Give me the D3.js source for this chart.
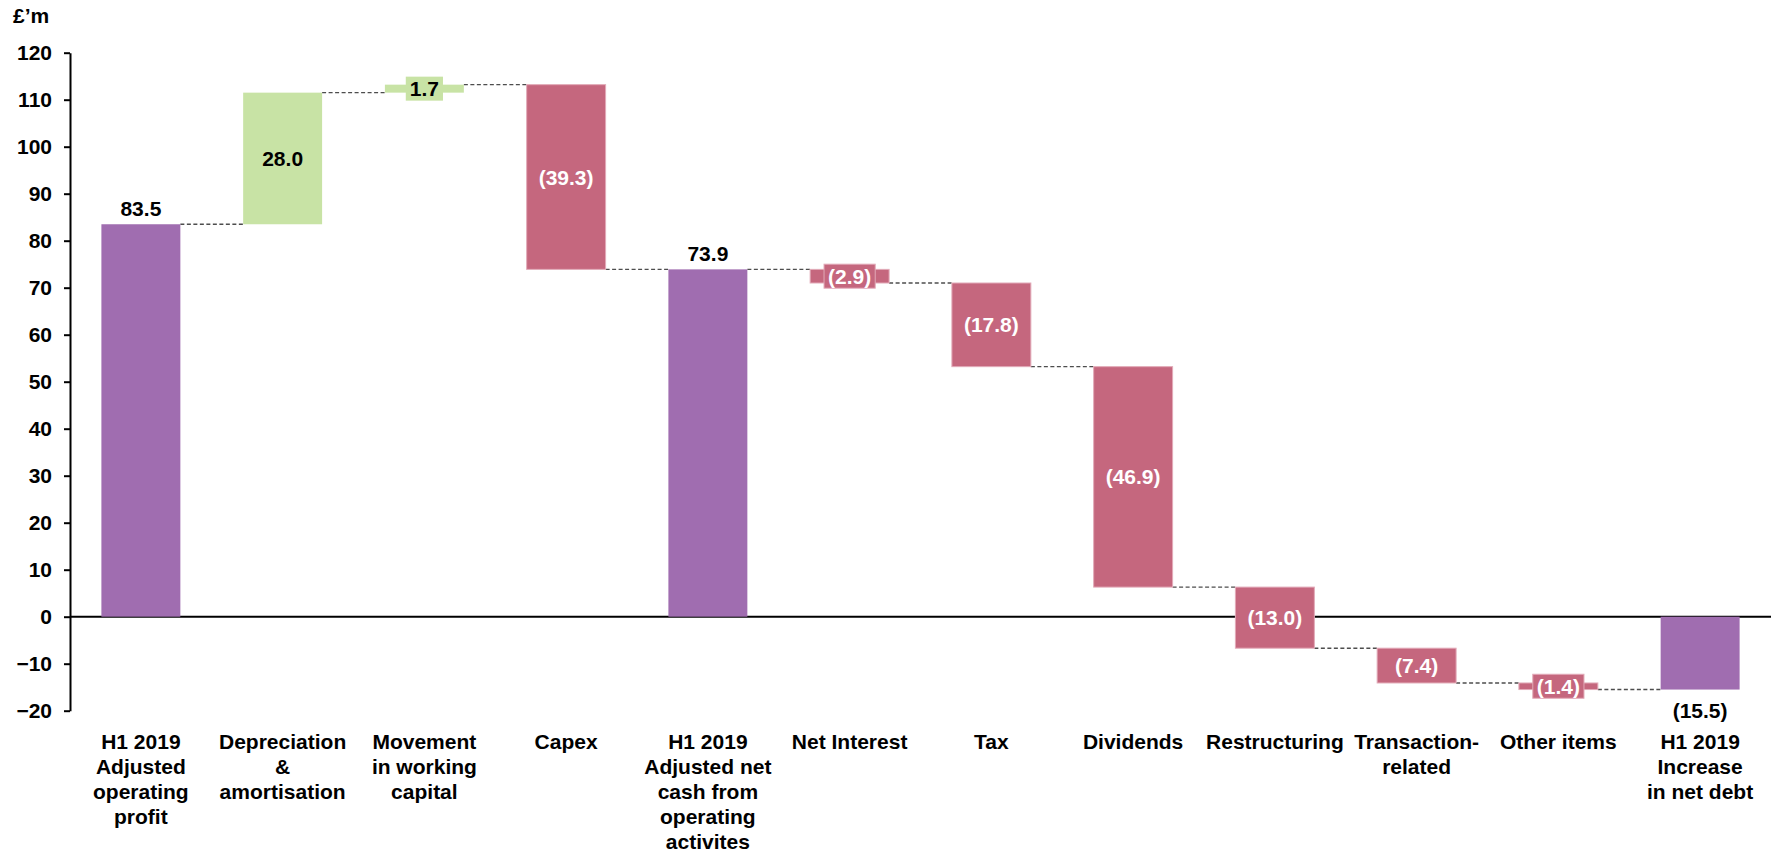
<!DOCTYPE html>
<html>
<head>
<meta charset="utf-8">
<script src="https://cdn.jsdelivr.net/npm/d3@7"></script>
<style>
  html, body { margin: 0; padding: 0; background: #fff; }
  svg { display: block; }
  text { font-family: "Liberation Sans", Arial, sans-serif; font-weight: bold; }
</style>
</head>
<body>
<svg id="chart" width="1777" height="855"></svg>
<script>
// ---- Data ----
const categories = [
  "H1 2019\nAdjusted\noperating\nprofit",
  "Depreciation\n&\namortisation",
  "Movement\nin working\ncapital",
  "Capex",
  "H1 2019\nAdjusted net\ncash from\noperating\nactivites",
  "Net Interest",
  "Tax",
  "Dividends",
  "Restructuring",
  "Transaction-\nrelated",
  "Other items",
  "H1 2019\nIncrease\nin net debt"
];
const values = [83.5, 28.0, 1.7, -39.3, 73.9, -2.9, -17.8, -46.9, -13.0, -7.4, -1.4, -15.5];
const barTypes = ["total", "delta", "delta", "delta", "total", "delta", "delta", "delta", "delta", "delta", "delta", "total"];
const valueLabels = ["83.5", "28.0", "1.7", "(39.3)", "73.9", "(2.9)", "(17.8)", "(46.9)", "(13.0)", "(7.4)", "(1.4)", "(15.5)"];
const yTickValues = [-20, -10, 0, 10, 20, 30, 40, 50, 60, 70, 80, 90, 100, 110, 120];
const unitLabel = "£’m";

const colors = { total: "#A06DB0", up: "#C8E3A5", down: "#C5677E" };

(function () {
// ---- Layout ----
const svg = d3.select("#chart");
const mLeft = 70, mRight = 1771, mTop = 52.7, mBottom = 710.7;

const x = d3.scaleBand().domain(d3.range(categories.length)).range([mLeft, mRight]).paddingInner(0.443).paddingOuter(0.2215);
const y = d3.scaleLinear().domain([-20, 120]).range([mBottom, mTop]);

// running totals
let running = 0;
const bars = values.map((v, i) => {
  let start, end;
  if (barTypes[i] === "total") { start = 0; end = v; }
  else { start = running; end = running + v; }
  running = end;
  const kind = barTypes[i] === "total" ? "total" : (v >= 0 ? "up" : "down");
  return { i, v, start, end, kind, label: valueLabels[i] };
});

// zero line (behind bars)
svg.append("line").attr("x1", mLeft).attr("x2", mRight).attr("y1", y(0)).attr("y2", y(0))
  .attr("stroke", "#000").attr("stroke-width", 2);

// connectors
const conn = svg.append("g");
bars.slice(0, -1).forEach(b => {
  conn.append("line")
    .attr("x1", x(b.i) + x.bandwidth()).attr("x2", x(b.i + 1))
    .attr("y1", y(b.end)).attr("y2", y(b.end))
    .attr("stroke", "#4d4d4d").attr("stroke-width", 1.4)
    .attr("stroke-dasharray", "4,2.5");
});

// bars
svg.append("g").selectAll("rect").data(bars).join("rect")
  .attr("x", d => x(d.i))
  .attr("width", x.bandwidth())
  .attr("y", d => y(Math.max(d.start, d.end)))
  .attr("height", d => Math.abs(y(d.start) - y(d.end)))
  .attr("fill", d => colors[d.kind])
  .attr("stroke", d => d.kind === "down" ? "#e2aab8" : "none")
  .attr("stroke-width", 1);

// y axis
const yAxis = d3.axisLeft(y).tickValues(yTickValues).tickSize(6).tickSizeOuter(0).tickPadding(12).tickFormat(d3.format("d"));
const ya = svg.append("g").attr("transform", `translate(${mLeft},0)`).call(yAxis);
ya.select(".domain").attr("stroke", "#000").attr("stroke-width", 2);
ya.selectAll(".tick line").attr("stroke", "#000").attr("stroke-width", 2);
ya.selectAll(".tick text").attr("fill", "#000").style("font-size", "21px")
  .style("font-family", "'Liberation Sans', Arial, sans-serif").style("font-weight", "bold");

// unit label
svg.append("text").attr("x", 13).attr("y", 23).style("font-size", "21px").attr("fill", "#000").text(unitLabel);

// value labels
const lab = svg.append("g");
bars.forEach(b => {
  const cx = x(b.i) + x.bandwidth() / 2;
  if (b.kind === "total") {
    const ty = b.v >= 0 ? y(b.v) - 8.5 : y(b.v) + 28.5;
    lab.append("text").attr("x", cx).attr("y", ty).attr("text-anchor", "middle")
      .style("font-size", "21px").attr("fill", "#000").text(b.label);
  } else {
    const cy = (y(b.start) + y(b.end)) / 2;
    const barH = Math.abs(y(b.start) - y(b.end));
    const g = lab.append("g");
    const t = g.append("text").attr("x", cx).attr("y", cy).attr("dy", "0.36em").attr("text-anchor", "middle")
      .style("font-size", "21px").attr("fill", b.kind === "up" ? "#000" : "#fff").text(b.label);
    if (barH < 24) {
      const w = t.node().getComputedTextLength() + 8;
      g.insert("rect", "text").attr("x", cx - w / 2).attr("y", cy - 12).attr("width", w).attr("height", 24)
        .attr("fill", colors[b.kind])
        .attr("stroke", b.kind === "down" ? "#e2aab8" : "none").attr("stroke-width", 1);
    }
  }
});

// category labels
const cat = svg.append("g");
categories.forEach((c, i) => {
  const cx = x(i) + x.bandwidth() / 2;
  const t = cat.append("text").attr("text-anchor", "middle").style("font-size", "21px").attr("fill", "#000");
  c.split("\n").forEach((line, k) => {
    t.append("tspan").attr("x", cx).attr("y", 749 + k * 25).text(line);
  });
});
})();
</script>
</body>
</html>
